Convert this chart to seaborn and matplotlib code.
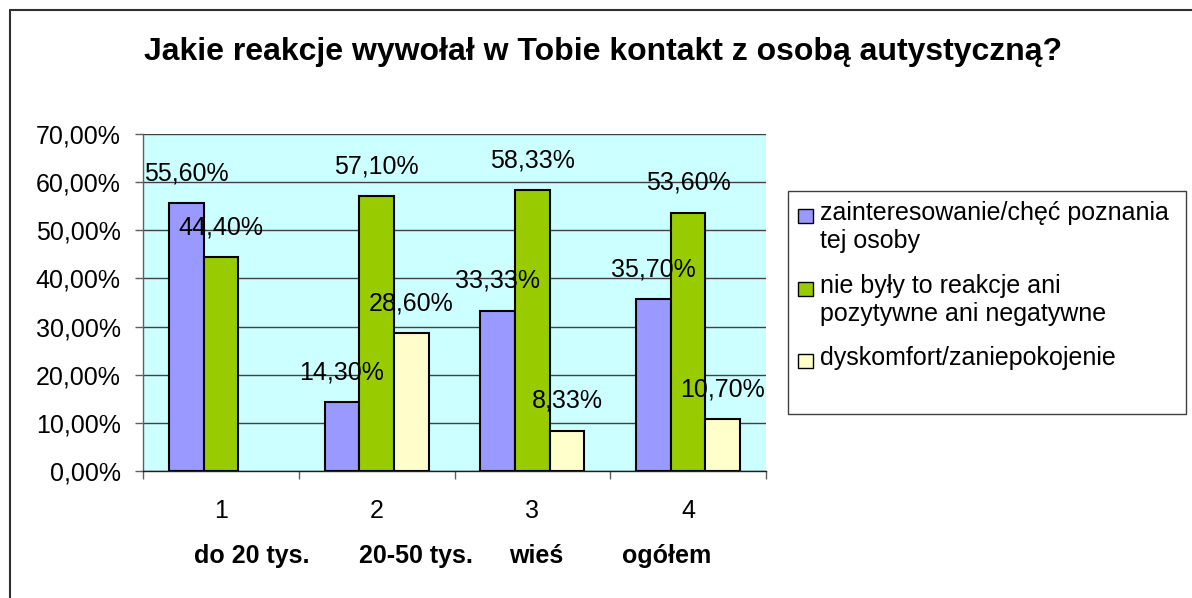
import matplotlib
matplotlib.use('Agg')
import matplotlib.pyplot as plt
from matplotlib.patches import Rectangle
from matplotlib.lines import Line2D
import seaborn as sns
import pandas as pd
import numpy as np

# ---- data ----
categories = ['1', '2', '3', '4']
group_labels = ['do 20 tys.', '20-50 tys.', 'wieś', 'ogółem']
series_names = ['zainteresowanie/chęć poznania\ntej osoby',
                'nie były to reakcje ani\npozytywne ani negatywne',
                'dyskomfort/zaniepokojenie']
interest = [55.60, 14.30, 33.33, 35.70]
neutral = [44.40, 57.10, 58.33, 53.60]
discomfort = [np.nan, 28.60, 8.33, 10.70]
y_ticks = [0, 10, 20, 30, 40, 50, 60, 70]
colors = ['#9999FF', '#99CC00', '#FFFFCC']
title = 'Jakie reakcje wywołał w Tobie kontakt z osobą autystyczną?'

series_values = [interest, neutral, discomfort]
rows = []
for name, vals in zip(series_names, series_values):
    for c, v in zip(categories, vals):
        rows.append({'cat': c, 'series': name, 'val': v})
df = pd.DataFrame(rows)

sns.set_theme(style='white')
plt.rcParams['font.family'] = ['Liberation Sans', 'DejaVu Sans']
plt.rcParams['text.color'] = 'black'
plt.rcParams['xtick.labelcolor'] = 'black'
plt.rcParams['ytick.labelcolor'] = 'black'

W, H = 1192, 598
fig = plt.figure(figsize=(W / 100, H / 100), dpi=100)

def fx(px):
    return px / W

def fy(py):
    return 1 - py / H

ax_left, ax_right, ax_top, ax_bottom = 143, 766, 134, 471
ax = fig.add_axes([fx(ax_left), fy(ax_bottom), (ax_right - ax_left) / W, (ax_bottom - ax_top) / H])
ax.set_facecolor('#CCFFFF')

sns.barplot(data=df, x='cat', y='val', hue='series', hue_order=series_names,
            order=categories, palette=colors, saturation=1, width=0.667, gap=0,
            edgecolor='black', linewidth=1.5, ax=ax, legend=False)

ax.set_xlim(-0.5, len(categories) - 0.5)
ax.set_ylim(0, 70)
ax.set_yticks(y_ticks)
ax.set_yticklabels([f'{t:.2f}'.replace('.', ',') + '%' for t in y_ticks], fontsize=18)
ax.yaxis.grid(True, color='#404040', linewidth=1)
ax.set_axisbelow(True)
ax.tick_params(axis='y', which='major', length=6, width=1, color='#606060', pad=10, left=True)

ax.set_xticks(range(len(categories)))
ax.set_xticklabels(categories, fontsize=18)
ax.set_xticks(np.arange(-0.5, len(categories), 1.0), minor=True)
ax.tick_params(axis='x', which='major', length=0, pad=20)
ax.tick_params(axis='x', which='minor', length=6, width=1, color='#606060', bottom=True)
ax.set_xlabel('')
ax.set_ylabel('')

for s in ['top', 'right']:
    ax.spines[s].set_visible(False)
ax.spines['left'].set_color('#606060')
ax.spines['left'].set_linewidth(1)
ax.spines['bottom'].set_color('#202020')
ax.spines['bottom'].set_linewidth(1)

# data labels
for cont in ax.containers:
    for bar in cont.patches:
        v = bar.get_height()
        if v is None or np.isnan(v):
            continue
        cx = bar.get_x() + bar.get_width() / 2
        ax.annotate(f'{v:.2f}'.replace('.', ',') + '%', (cx, v), xytext=(0, 21.6),
                    textcoords='offset points', ha='center', va='center',
                    fontsize=18, color='black', annotation_clip=False)

# group labels (bold second row)
group_x = [252, 416, 536, 667]
for gx, lab in zip(group_x, group_labels):
    fig.text(fx(gx), fy(556), lab, ha='center', va='center', fontsize=18,
             fontweight='bold')

# title
fig.text(fx(603), fy(52), title, ha='center', va='center', fontsize=23, fontweight='bold')

# legend box
fig.add_artist(Rectangle((fx(788), fy(414)), (1186 - 788) / W, (414 - 191) / H,
                         transform=fig.transFigure, facecolor='white',
                         edgecolor='#404040', linewidth=1))
marker_y = [216, 289, 361]
for my, name, col in zip(marker_y, series_names, colors):
    fig.add_artist(Rectangle((fx(798), fy(my + 7)), 15 / W, 14 / H,
                             transform=fig.transFigure, facecolor=col,
                             edgecolor='black', linewidth=1))
    fig.text(fx(820), fy(my - 15), name, ha='left', va='top', fontsize=18,
             linespacing=1.22)

# outer border (left and top)
fig.add_artist(Line2D([fx(10), fx(10)], [fy(10), 0], transform=fig.transFigure,
                      color='#303030', linewidth=1.5))
fig.add_artist(Line2D([fx(10), 1], [fy(10), fy(10)], transform=fig.transFigure,
                      color='#303030', linewidth=1.5))

fig.savefig('out.png', dpi=100, facecolor='white')
